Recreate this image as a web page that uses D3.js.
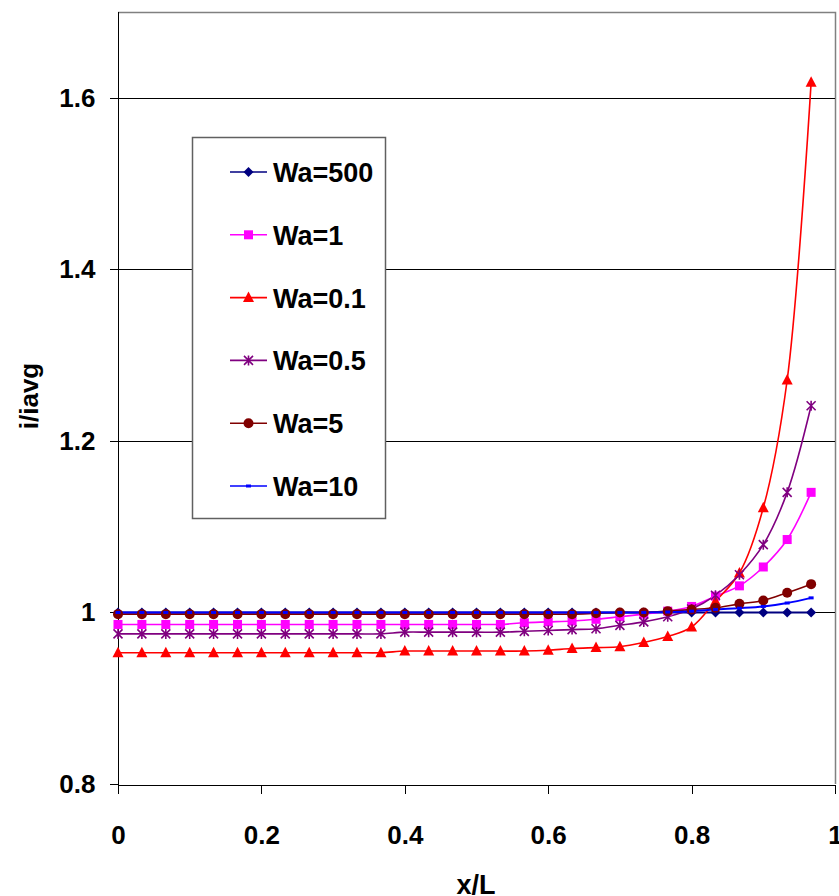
<!DOCTYPE html>
<html>
<head>
<meta charset="utf-8">
<script src="https://cdn.jsdelivr.net/npm/d3@7"></script>
<style>
  body { margin: 0; background: #fff; }
  svg { display: block; font-family: "Liberation Sans", Arial, sans-serif; }
  .axis text { font-size: 26px; font-weight: bold; fill: #000; }
  .axis path, .axis line { stroke: #000; shape-rendering: crispEdges; }
</style>
</head>
<body>
<svg></svg>
<script>
const xVals = [0, 0.0333, 0.0667, 0.1, 0.1333, 0.1667, 0.2, 0.2333, 0.2667, 0.3,
  0.3333, 0.3667, 0.4, 0.4333, 0.4667, 0.5, 0.5333, 0.5667, 0.6, 0.6333,
  0.6667, 0.7, 0.7333, 0.7667, 0.8, 0.8333, 0.8667, 0.9, 0.9333, 0.9667]

const wa500 = [1, 1, 1, 1, 1, 1, 1, 1, 1, 1,
  1, 1, 1, 1, 1, 1, 1, 1, 1, 1,
  1, 1, 1, 1, 1, 1, 1, 1, 1, 1]
const wa1 = [0.986, 0.986, 0.986, 0.986, 0.986, 0.986, 0.986, 0.986, 0.986, 0.986,
  0.986, 0.986, 0.986, 0.986, 0.986, 0.986, 0.986, 0.988, 0.989, 0.990,
  0.992, 0.995, 0.998, 1.0015, 1.007, 1.019, 1.031, 1.053, 1.085, 1.140]
const wa01 = [0.953, 0.953, 0.953, 0.953, 0.953, 0.953, 0.953, 0.953, 0.953, 0.953,
  0.953, 0.953, 0.955, 0.955, 0.955, 0.955, 0.955, 0.955, 0.956, 0.958,
  0.959, 0.960, 0.965, 0.972, 0.983, 1.013, 1.046, 1.122, 1.271, 1.618]
const wa05 = [0.975, 0.975, 0.975, 0.975, 0.975, 0.975, 0.975, 0.975, 0.975, 0.975,
  0.975, 0.975, 0.977, 0.977, 0.977, 0.977, 0.977, 0.978, 0.979, 0.980,
  0.981, 0.985, 0.989, 0.995, 1.004, 1.020, 1.044, 1.079, 1.140, 1.241]
const wa5 = [0.998, 0.998, 0.998, 0.998, 0.998, 0.998, 0.998, 0.998, 0.998, 0.998,
  0.998, 0.998, 0.998, 0.998, 0.998, 0.998, 0.998, 0.998, 0.998, 0.998,
  0.999, 1.0, 1.0, 1.0015, 1.0035, 1.0055, 1.010, 1.014, 1.023, 1.033]
const wa10 = [1, 1, 1, 1, 1, 1, 1, 1, 1, 1,
  1, 1, 1, 1, 1, 1, 1, 1, 1, 1,
  1, 1, 1, 1.0005, 1.0015, 1.0035, 1.005, 1.007, 1.011, 1.017]

const seriesNames = ["Wa=500", "Wa=1", "Wa=0.1", "Wa=0.5", "Wa=5", "Wa=10"]
const seriesColors = ["#000080", "#ff00ff", "#ff0000", "#800080", "#800000", "#0000ff"]
const seriesMarkers = ["diamond", "square", "triangle", "star", "circle", "dash"]
const seriesValues = [wa500, wa1, wa01, wa05, wa5, wa10]

const yTicks = [0.8, 1, 1.2, 1.4, 1.6]
const xTicks = [0, 0.2, 0.4, 0.6, 0.8, 1]

const series = seriesNames.map((name, i) => {
  return {
    name: name,
    color: seriesColors[i],
    marker: seriesMarkers[i],
    points: xVals.map((x, j) => { return { x: x, y: seriesValues[i][j] } })
  }
})

const svg = d3.select("svg")
  .attr("width", 839)
  .attr("height", 896)

const xScale = d3.scaleLinear()
  .domain([0, 1])
  .range([118, 835])

const yScale = d3.scaleLinear()
  .domain([0.8, 1.7])
  .range([784, 12])

// frame top / right
svg.append("path")
  .attr("d", `M118,12.5H835.5V784`)
  .attr("fill", "none")
  .attr("stroke", "#808080")
  .attr("stroke-width", 1.5)

// gridlines
svg.append("g")
  .selectAll("line")
  .data(yTicks.slice(1))
  .enter()
  .append("line")
  .attr("x1", 118)
  .attr("x2", 835)
  .attr("y1", (d) => { return Math.round(yScale(d)) + 0.5 })
  .attr("y2", (d) => { return Math.round(yScale(d)) + 0.5 })
  .attr("stroke", "#000")
  .attr("stroke-width", 1)

const fmt = (d) => { return (d === 0 || d === 1) ? String(d) : d3.format(".1f")(d) }

svg.append("g")
  .attr("class", "axis")
  .attr("transform", "translate(118.5, 0)")
  .call(d3.axisLeft(yScale).tickValues(yTicks).tickFormat(fmt).tickSize(9).tickPadding(14).tickSizeOuter(0))
  .call((g) => { g.select(".domain").attr("d", "M0,12V784") })

svg.append("g")
  .attr("class", "axis")
  .attr("transform", "translate(0, 784.5)")
  .call(d3.axisBottom(xScale).tickValues(xTicks).tickFormat(fmt).tickSize(9).tickPadding(32).tickSizeOuter(0))

svg.selectAll(".axis text").attr("font-family", null)

// axis titles
svg.append("text")
  .attr("x", 476)
  .attr("y", 894)
  .attr("text-anchor", "middle")
  .attr("font-size", 27)
  .attr("font-weight", "bold")
  .text("x/L")

svg.append("text")
  .attr("transform", "translate(38, 396) rotate(-90)")
  .attr("text-anchor", "middle")
  .attr("font-size", 26)
  .attr("font-weight", "bold")
  .text("i/iavg")

const line = d3.line()
  .x((d) => { return xScale(d.x) })
  .y((d) => { return yScale(d.y) })
  .curve(d3.curveCatmullRom.alpha(0.5))

const drawMarker = (sel, kind, color) => {
  if (kind === "diamond") {
    sel.append("path").attr("d", "M0,-5L5,0L0,5L-5,0Z").attr("fill", color)
  } else if (kind === "square") {
    sel.append("rect").attr("x", -4.5).attr("y", -4.5).attr("width", 9).attr("height", 9).attr("fill", color)
  } else if (kind === "triangle") {
    sel.append("path").attr("d", "M0,-6L5.5,4.5L-5.5,4.5Z").attr("fill", color)
  } else if (kind === "star") {
    sel.append("path").attr("d", "M-4.5,-4.5L4.5,4.5M4.5,-4.5L-4.5,4.5M0,-5V5")
      .attr("stroke", color).attr("stroke-width", 1.6).attr("fill", "none")
  } else if (kind === "circle") {
    sel.append("circle").attr("r", 5).attr("fill", color)
  } else {
    sel.append("rect").attr("x", -2.5).attr("y", -1.5).attr("width", 5).attr("height", 3).attr("fill", color)
  }
}

const plot = svg.append("g").attr("class", "series")

series.forEach((s) => {
  plot.append("path")
    .attr("d", line(s.points))
    .attr("fill", "none")
    .attr("stroke", s.color)
    .attr("stroke-width", s.name === "Wa=500" || s.name === "Wa=10" ? 2 : 1.6)
})

series.forEach((s) => {
  plot.append("g")
    .selectAll("g")
    .data(s.points)
    .enter()
    .append("g")
    .attr("transform", (d) => { return `translate(${xScale(d.x)}, ${yScale(d.y)})` })
    .each(function() { drawMarker(d3.select(this), s.marker, s.color) })
})

// legend
const legend = svg.append("g").attr("class", "legend")

legend.append("rect")
  .attr("x", 192.5)
  .attr("y", 137.5)
  .attr("width", 193)
  .attr("height", 381)
  .attr("fill", "#fff")
  .attr("stroke", "#606060")
  .attr("stroke-width", 1.5)

const rows = legend.selectAll("g.row")
  .data(series)
  .enter()
  .append("g")
  .attr("class", "row")
  .attr("transform", (d, i) => { return `translate(0, ${172 + i * 62.8})` })

rows.append("line")
  .attr("x1", 230)
  .attr("x2", 267)
  .attr("stroke", (d) => { return d.color })
  .attr("stroke-width", 1.6)

rows.append("g")
  .attr("transform", "translate(248.5, 0)")
  .each(function(d) { drawMarker(d3.select(this), d.marker, d.color) })

rows.append("text")
  .attr("x", 273)
  .attr("y", 10)
  .attr("font-size", 27)
  .attr("font-weight", "bold")
  .text((d) => { return d.name })
</script>
</body>
</html>
